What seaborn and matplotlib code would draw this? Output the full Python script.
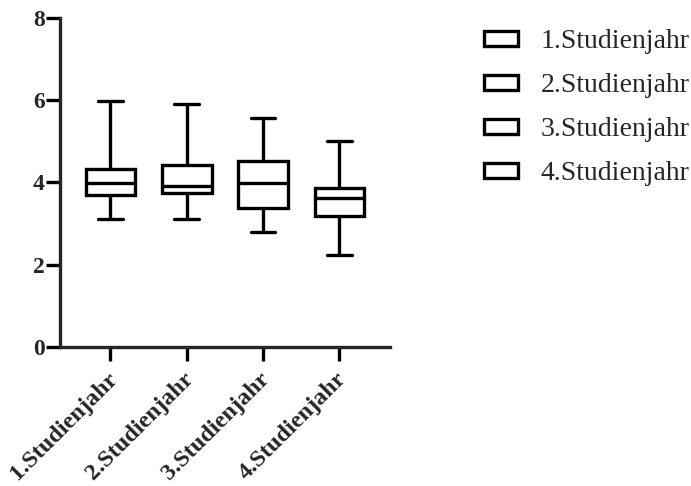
import pandas as pd
import matplotlib
matplotlib.use("Agg")
import matplotlib.pyplot as plt
import matplotlib.transforms as mtransforms
import seaborn as sns

categories = ['1.Studienjahr', '2.Studienjahr', '3.Studienjahr', '4.Studienjahr']
year1 = [3.11, 3.70, 3.98, 4.32, 5.98]
year2 = [3.11, 3.75, 3.92, 4.42, 5.90]
year3 = [2.79, 3.37, 3.99, 4.52, 5.58]
year4 = [2.24, 3.18, 3.62, 3.86, 5.00]
y_ticks = [0, 2, 4, 6, 8]


def build_long_table(groups, values):
    """
    Stacks the per-group value lists into one long DataFrame.
    """
    rows = []
    for name, vals in zip(groups, values):
        for v in vals:
            rows.append({'Jahr': name, 'Wert': v})
    return pd.DataFrame(rows)


def plot_boxes(data):
    """
    Draws the open box plot with min-max whiskers and a legend on the right.
    """
    sns.set_style('ticks')
    plt.rcParams['font.family'] = ['Liberation Serif', 'DejaVu Serif']

    fig = plt.figure(figsize=(6.91, 4.86), dpi=100)
    ax = fig.add_axes([0.087, 0.286, 0.477, 0.677])

    lw = 2.4
    sns.boxplot(data=data, x='Jahr', y='Wert', hue='Jahr', order=categories,
                hue_order=categories, palette=['white'] * 4, linecolor='black',
                linewidth=lw, width=0.65, whis=(0, 100), dodge=False,
                legend=True, ax=ax)

    ax.set_ylim(0, 8)
    ax.set_xlim(-0.66, 3.66)
    ax.set_yticks(y_ticks)
    ax.set_xlabel('')
    ax.set_ylabel('')
    sns.despine(ax=ax)
    for side in ['left', 'bottom']:
        ax.spines[side].set_linewidth(lw)
    ax.tick_params(axis='both', width=lw, length=10, color='black')
    ax.tick_params(axis='y', labelsize=17, pad=1)
    ax.tick_params(axis='x', labelsize=17.5, pad=3)
    for lab in ax.get_yticklabels():
        lab.set_fontweight('bold')
    shift = mtransforms.ScaledTranslation(-0.04, -0.03, fig.dpi_scale_trans)
    for lab in ax.get_xticklabels():
        lab.set_fontweight('bold')
        lab.set_rotation(45)
        lab.set_ha('right')
        lab.set_va('top')
        lab.set_rotation_mode('anchor')
        lab.set_transform(lab.get_transform() + shift)

    handles, labels = ax.get_legend_handles_labels()
    for h in handles:
        h.set_facecolor('white')
        h.set_edgecolor('black')
        h.set_linewidth(lw)
    ax.legend(handles, labels, loc='upper left',
              bbox_to_anchor=(484 / 691, 1 - 29 / 486),
              bbox_transform=fig.transFigure, frameon=False, fontsize=20,
              handlelength=1.22, handleheight=0.45, handletextpad=0.82,
              labelspacing=0.69, borderpad=0, borderaxespad=0)

    fig.savefig('out.png', dpi=100, facecolor='white')


plot_boxes(build_long_table(categories, [year1, year2, year3, year4]))
